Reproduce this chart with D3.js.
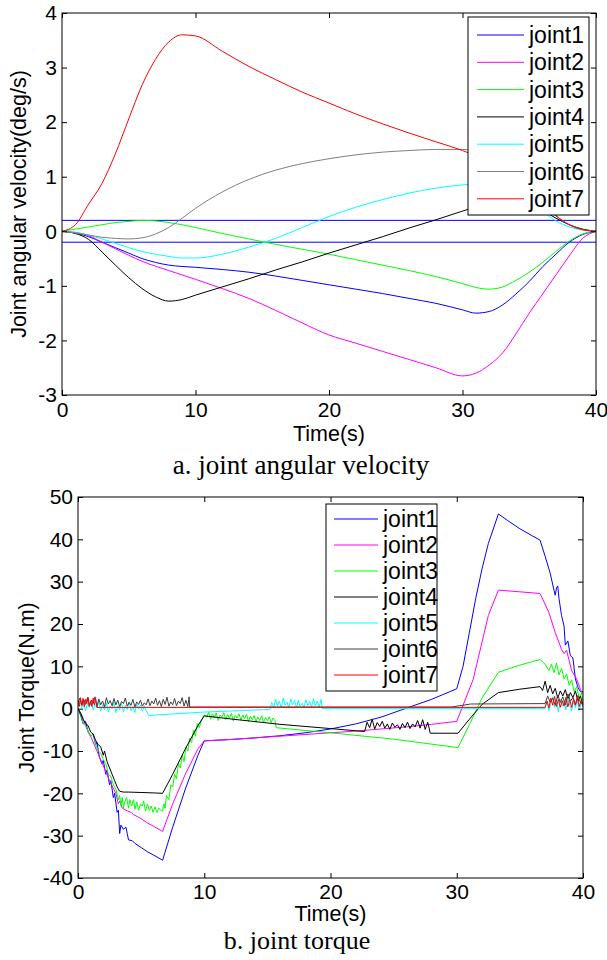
<!DOCTYPE html>
<html>
<head>
<meta charset="utf-8">
<script src="https://cdn.jsdelivr.net/npm/d3@7"></script>
<style>
  body { margin: 0; background: #fff; }
  svg { display: block; }
  text { font-family: Arial, "Liberation Sans", sans-serif; fill: #000; }
  .caption { font-family: "Times New Roman", "Liberation Serif", serif; }
</style>
</head>
<body>
<svg id="chart" width="607" height="960"></svg>
<script>
const jointNames = ['joint1', 'joint2', 'joint3', 'joint4', 'joint5', 'joint6', 'joint7'];
const timeTicks = [0, 10, 20, 30, 40];
const velTicks = [-3, -2, -1, 0, 1, 2, 3, 4];
const torTicks = [-40, -30, -20, -10, 0, 10, 20, 30, 40, 50];
const velLimits = [0.2, -0.2];

// a. joint angular velocity, sampled on a shared time grid
const velTime = [0, 1, 2, 3, 4, 5, 6, 7, 8, 9, 10, 12, 14, 16, 18, 20, 22, 24, 26, 28, 30, 31, 32, 33, 34, 35, 36, 37, 38, 39, 40];
const velJoint1 = [0, -0.03, -0.1, -0.2, -0.3, -0.4, -0.5, -0.57, -0.62, -0.645, -0.66, -0.7, -0.75, -0.82, -0.9, -0.98, -1.06, -1.14, -1.23, -1.32, -1.44, -1.5, -1.47, -1.35, -1.15, -0.92, -0.65, -0.42, -0.2, -0.06, 0];
const velJoint2 = [0, -0.02, -0.08, -0.2, -0.32, -0.44, -0.55, -0.64, -0.72, -0.8, -0.88, -1.05, -1.23, -1.45, -1.68, -1.9, -2.05, -2.2, -2.35, -2.5, -2.65, -2.6, -2.45, -2.23, -1.88, -1.5, -1.15, -0.8, -0.45, -0.13, 0];
const velJoint3 = [0, 0.04, 0.08, 0.12, 0.16, 0.18, 0.2, 0.19, 0.16, 0.12, 0.07, -0.04, -0.14, -0.24, -0.33, -0.42, -0.52, -0.62, -0.72, -0.83, -0.96, -1.03, -1.06, -1.02, -0.9, -0.75, -0.57, -0.37, -0.18, -0.05, 0];
const velJoint4 = [0, -0.04, -0.15, -0.38, -0.62, -0.85, -1.05, -1.2, -1.28, -1.25, -1.17, -1.02, -0.87, -0.71, -0.56, -0.4, -0.25, -0.1, 0.06, 0.21, 0.37, 0.45, 0.52, 0.56, 0.55, 0.48, 0.38, 0.24, 0.12, 0.04, 0];
const velJoint5 = [0, -0.02, -0.07, -0.14, -0.22, -0.3, -0.37, -0.42, -0.46, -0.49, -0.49, -0.42, -0.29, -0.13, 0.07, 0.27, 0.44, 0.58, 0.7, 0.79, 0.85, 0.86, 0.84, 0.78, 0.68, 0.53, 0.36, 0.19, 0.08, 0.02, 0];
const velJoint6 = [0, -0.03, -0.07, -0.11, -0.13, -0.14, -0.12, -0.05, 0.07, 0.24, 0.42, 0.72, 0.95, 1.12, 1.24, 1.33, 1.4, 1.45, 1.48, 1.5, 1.5, 1.48, 1.43, 1.32, 1.15, 0.92, 0.62, 0.3, 0.12, 0.03, 0];
const velJoint7 = [0, 0.12, 0.5, 0.88, 1.42, 2.06, 2.68, 3.15, 3.47, 3.6, 3.58, 3.3, 3.02, 2.78, 2.55, 2.35, 2.15, 1.97, 1.8, 1.64, 1.48, 1.38, 1.25, 1.1, 0.92, 0.72, 0.5, 0.28, 0.12, 0.03, 0];

// b. joint torque, [time, value] pairs
const torJoint1 = [[0,0],[0.2,-1.5],[0.4,-3.5],[0.6,-3],[0.8,-5.5],[1,-6.5],[1.2,-6],[1.4,-8.5],[1.5,-8],[1.7,-11.5],[1.9,-13],[2,-12.2],[2.2,-15.5],[2.3,-14.5],[2.5,-18],[2.6,-17],[2.8,-21],[2.9,-20],[3.1,-24.5],[3.2,-24],[3.3,-29.5],[3.4,-27.5],[3.6,-28.5],[3.8,-28],[3.9,-29.5],[4,-31],[4.3,-31.2],[4.5,-31.8],[5,-32.8],[5.5,-33.8],[6,-34.6],[6.7,-35.8],[7.5,-28],[8.5,-19],[9.5,-11],[10,-7.6],[12,-7.3],[14,-6.9],[16,-6.4],[18,-5.7],[20,-4.8],[22,-3.6],[24,-2],[26,0.1],[28,2.2],[30,4.7],[30.5,10],[31,18],[31.5,26],[32,33],[32.5,39],[33.3,46],[34,44.5],[35,42.5],[36,40.8],[36.6,39.8],[37,36],[37.4,32],[37.7,28],[37.8,26.8],[37.9,28.5],[38,29],[38.1,26],[38.3,22],[38.5,19.5],[38.6,15],[38.8,16],[39,12.5],[39.2,12],[39.4,7],[39.6,5],[39.8,4],[40,4]];
const torJoint2 = [[0,0],[0.3,-1.5],[0.6,-4],[1,-6.5],[1.5,-10],[2,-13.5],[2.5,-17],[3,-20],[3.2,-22.5],[3.3,-21.8],[3.5,-23.5],[3.8,-24],[4.2,-24.5],[4.4,-25],[5,-26],[5.5,-27],[6,-27.8],[6.7,-29],[7.5,-22.5],[8.5,-15.5],[9.5,-9.5],[10,-7.6],[12,-7.3],[14,-6.9],[16,-6.5],[18,-6.1],[20,-5.7],[22,-5.3],[24,-4.8],[26,-4.3],[28,-3.7],[30,-3],[31.3,6.9],[32.5,22],[33.3,28],[35,27.6],[36.6,27.2],[37.3,22.7],[37.8,18],[38.3,14],[38.5,13],[38.7,13.8],[39.1,9],[39.5,7],[39.8,4.5],[40,3.5]];
const torJoint3 = [[0,0],[0.2,-1],[0.4,-3.5],[0.6,-4],[0.8,-5.5],[1,-6.5],[1.2,-6],[1.4,-8.5],[1.6,-10],[1.8,-10.5],[2,-12],[2.2,-13],[2.4,-15.5],[2.6,-16],[2.8,-18],[3,-19],[3.2,-21.5],[3.3,-20.5],[3.4,-23],[3.5,-21],[3.6,-23.5],[3.7,-22],[3.85,-21],[4,-23.5],[4.1,-21.5],[4.25,-23],[4.4,-21.5],[4.5,-23.8],[4.65,-22],[4.8,-24],[4.95,-22.5],[5.1,-23],[5.2,-21.8],[5.35,-24.2],[5.5,-22.5],[5.65,-24],[5.8,-23],[5.95,-24.5],[6.1,-23.2],[6.25,-24.5],[6.4,-23.5],[6.55,-24],[6.7,-24.2],[6.8,-22.5],[6.9,-23.5],[7,-20.5],[7.2,-21.5],[7.35,-18],[7.5,-18.5],[7.65,-15.5],[7.8,-16.5],[7.95,-13],[8.1,-14],[8.25,-11],[8.4,-12.5],[8.55,-9],[8.7,-10],[8.85,-7],[9,-8],[9.15,-5],[9.3,-6.5],[9.45,-3.5],[9.6,-4.5],[9.8,-2.5],[10,-1.5],[10.2,-2],[10.35,-0.8],[10.5,-2.5],[10.65,-1.2],[10.8,-2.2],[10.95,-1],[11.1,-2.8],[11.25,-1.5],[11.4,-2],[11.55,-0.9],[11.7,-2.6],[11.85,-1.4],[12,-2.3],[12.15,-1.1],[12.3,-2.9],[12.45,-1.6],[12.6,-2.2],[12.75,-1.2],[12.9,-2.7],[13.05,-1.5],[13.2,-2.4],[13.35,-1.3],[13.5,-3],[13.65,-1.8],[13.8,-2.6],[13.95,-1.6],[14.1,-3.1],[14.25,-2],[14.4,-2.8],[14.55,-1.7],[14.7,-3.2],[14.85,-2.1],[15,-2.9],[15.15,-1.9],[15.3,-3.3],[15.45,-2.2],[15.6,-2.8],[15.7,-4.5],[20,-5.7],[25,-7.2],[30.1,-9.2],[31,-3.8],[32,2.5],[33.3,8.6],[35,10.3],[36.6,11.6],[37,10.5],[37.3,9],[37.5,10.5],[37.7,8.5],[37.9,10.8],[38.1,8],[38.3,9.5],[38.5,7],[38.7,8.2],[38.9,5.5],[39.1,6.8],[39.3,4],[39.5,5.2],[39.7,2.5],[39.9,3.8],[40,1]];
const torJoint4 = [[0,0],[0.2,-1],[0.4,-2.5],[0.6,-3.5],[0.8,-4],[1,-5.5],[1.2,-6],[1.4,-7.5],[1.6,-8.5],[1.8,-9],[2,-11],[2.1,-10],[2.3,-12.5],[2.5,-14],[2.7,-15.5],[2.9,-17],[3.1,-18.5],[3.3,-19.5],[3.6,-19.7],[4,-19.7],[5,-19.8],[6,-19.9],[6.7,-20],[7.5,-15.5],[8.5,-9.5],[9.5,-4],[10,-1.7],[12,-2.4],[16,-3.7],[20,-4.7],[22.7,-5.4],[22.9,-3.2],[23.1,-4.5],[23.3,-2.5],[23.5,-4.8],[23.7,-3.3],[23.9,-4.2],[24.1,-3],[24.3,-4.6],[24.5,-3.6],[24.7,-4.9],[24.9,-3.4],[25.1,-4.4],[25.3,-3.8],[25.5,-4.9],[25.7,-3.5],[25.9,-4.5],[26.1,-3.2],[26.3,-4.7],[26.5,-3.6],[26.7,-4.3],[26.9,-2.8],[27.1,-4.6],[27.3,-2.6],[27.5,-4.9],[27.7,-3.2],[27.9,-5.8],[30.1,-5.8],[31,-2.5],[32,1],[33.3,3.8],[35,4.6],[36.6,5.2],[36.8,4.3],[37,6.5],[37.2,3.8],[37.4,5.5],[37.6,3.5],[37.8,4.8],[38,2.5],[38.2,4.2],[38.4,3],[38.6,4.5],[38.8,2.2],[39,3.8],[39.2,2.6],[39.4,4.2],[39.6,1.8],[39.8,3],[40,0.5]];
const torJoint5 = [[0,0.5],[0.15,1.8],[0.3,0.2],[0.45,1.5],[0.6,-0.5],[0.75,1.2],[0.9,0.3],[1.05,1.9],[1.2,-0.3],[1.35,1],[1.5,0.2],[1.65,1.7],[1.8,-0.6],[1.95,0.9],[2.1,-0.2],[2.25,1.4],[2.4,-0.8],[2.55,0.6],[2.7,0],[2.85,1.5],[3,-0.9],[3.15,0.7],[3.3,-0.3],[3.45,1.2],[3.6,-0.7],[3.75,0.8],[3.9,-0.2],[4.05,1.6],[4.2,-0.5],[4.35,0.5],[4.5,-0.9],[4.65,1.1],[4.8,-0.1],[4.95,0.9],[5.1,-0.6],[5.25,0.7],[5.4,-0.4],[5.6,-1.6],[10,-0.8],[15.2,-0.2],[15.35,1.5],[15.5,0.3],[15.65,2.2],[15.8,0.6],[15.95,1.8],[16.1,0.2],[16.25,2.5],[16.4,0.8],[16.55,1.6],[16.7,0.1],[16.85,2.3],[17,0.9],[17.15,1.9],[17.3,0.3],[17.45,2],[17.6,0.5],[17.75,1.3],[17.9,0.2],[18.05,2.1],[18.2,0.7],[18.35,1.7],[18.5,0.4],[18.65,2.4],[18.8,0.6],[18.95,1.8],[19.1,0.3],[19.25,2.2],[19.35,0],[37,0],[37.15,1.8],[37.3,-0.5],[37.45,1.2],[37.6,2.8],[37.75,0.3],[37.9,1.6],[38.05,-0.8],[38.2,2.2],[38.35,0.5],[38.5,1.9],[38.65,-0.3],[38.8,2.5],[38.95,0.8],[39.1,-0.6],[39.25,1.7],[39.4,0.2],[39.55,2],[39.7,-0.4],[39.85,1.3],[40,0.5]];
const torJoint6 = [[0,1.5],[0.15,2.5],[0.3,0.8],[0.45,2.2],[0.6,1],[0.75,2.6],[0.9,0.6],[1.05,2],[1.2,1.2],[1.35,2.8],[1.5,0.5],[1.65,2.3],[1.8,0.9],[1.95,1.8],[2.1,0.4],[2.25,2.6],[2.4,1.1],[2.55,1.9],[2.7,0.7],[2.85,2.4],[3,0.9],[3.15,2],[3.3,0.5],[3.45,1.7],[3.6,1.2],[3.75,2.5],[3.9,0.6],[4.05,1.5],[4.2,0.8],[4.35,2.2],[4.5,0.4],[4.65,1.6],[4.8,1],[4.95,2],[5.1,0.6],[5.25,1.4],[5.4,0.9],[5.55,2.3],[5.7,0.7],[5.85,1.8],[6,1.1],[6.15,2.5],[6.3,0.8],[6.45,1.9],[6.6,0.5],[6.75,2.2],[6.9,1],[7.05,2.7],[7.2,0.6],[7.35,1.6],[7.5,0.9],[7.65,2.4],[7.8,0.7],[7.95,1.8],[8.1,1.2],[8.25,2.6],[8.4,0.6],[8.55,2],[8.7,0.5],[8.8,2.8],[8.85,0.4],[29.6,0.4],[31.1,1.1],[37,1.2],[37.2,3],[37.4,1.5],[37.6,2.5],[37.8,0.8],[38,3.2],[38.2,1.5],[38.4,2.8],[38.6,0.9],[38.8,3.5],[39,1.8],[39.2,2.6],[39.4,1],[39.6,3.1],[39.8,1.4],[40,1]];
const torJoint7 = [[0,2],[0.1,0.5],[0.2,2.6],[0.3,0.8],[0.4,2.4],[0.5,0.4],[0.6,2.2],[0.7,1.2],[0.8,2.7],[0.9,0.6],[1,1.8],[1.1,0.5],[1.2,2.5],[1.3,0.9],[1.4,2.3],[1.5,0.3],[37,0.3],[37.15,1.8],[37.3,0.2],[37.45,2.5],[37.6,0.8],[37.75,2.9],[37.9,0.5],[38.05,2.2],[38.2,0.3],[38.35,1.9],[38.5,0.6],[38.65,2.7],[38.8,0.4],[38.95,2.1],[39.1,0.3],[39.25,2.4],[39.4,0.8],[39.55,2.8],[39.7,0.5],[39.85,1.9],[40,0.6]];

const velColors = ['#0000ff', '#ff00ff', '#00ff00', '#000000', '#00ffff', '#808080', '#ff0000'];
const torColors = ['#0000ff', '#ff00ff', '#00ff00', '#000000', '#00ffff', '#404040', '#ff0000'];

const svg = d3.select('#chart');

function drawPanel(p) {
  const x = d3.scaleLinear().domain([0, 40]).range([p.left, p.right]);
  const y = d3.scaleLinear().domain(p.yDomain).range([p.bottom, p.top]);
  const g = svg.append('g');

  g.append('clipPath').attr('id', p.id + '-clip')
    .append('rect')
    .attr('x', p.left).attr('y', p.top)
    .attr('width', p.right - p.left).attr('height', p.bottom - p.top);

  const plot = g.append('g').attr('clip-path', `url(#${p.id}-clip)`);

  if (p.limits) {
    plot.selectAll('line.limit')
      .data(p.limits)
      .join('line')
      .attr('x1', p.left).attr('x2', p.right)
      .attr('y1', d => y(d)).attr('y2', d => y(d))
      .attr('stroke', '#0000ff').attr('stroke-width', 1);
  }

  const line = d3.line()
    .x(d => x(d[0]))
    .y(d => y(d[1]))
    .curve(p.curve);

  plot.selectAll('path.series')
    .data(p.series)
    .join('path')
    .attr('fill', 'none')
    .attr('stroke', (d, i) => p.colors[i])
    .attr('stroke-width', 1)
    .attr('d', d => line(d));

  // axes, MATLAB style: ticks inside, box all round, plain hyphen minus
  const fmt = d => String(d);
  g.append('g')
    .attr('transform', `translate(0,${p.bottom})`)
    .call(d3.axisBottom(x).tickValues(timeTicks).tickFormat(fmt).tickSizeInner(-5).tickSizeOuter(0).tickPadding(p.xPad));
  g.append('g')
    .attr('transform', `translate(0,${p.top})`)
    .call(d3.axisTop(x).tickValues(timeTicks).tickFormat('').tickSizeInner(-5).tickSizeOuter(0));
  g.append('g')
    .attr('transform', `translate(${p.left},0)`)
    .call(d3.axisLeft(y).tickValues(p.yTicks).tickFormat(fmt).tickSizeInner(-5).tickSizeOuter(0).tickPadding(p.yPad));
  g.append('g')
    .attr('transform', `translate(${p.right},0)`)
    .call(d3.axisRight(y).tickValues(p.yTicks).tickFormat('').tickSizeInner(-5).tickSizeOuter(0));

  g.selectAll('.domain').remove();
  g.selectAll('.tick line').attr('stroke', '#000');
  g.selectAll('.tick text')
    .attr('font-family', 'Arial, "Liberation Sans", sans-serif')
    .attr('font-size', p.tickSize)
    .attr('fill', '#000');

  g.append('rect')
    .attr('x', p.left).attr('y', p.top)
    .attr('width', p.right - p.left).attr('height', p.bottom - p.top)
    .attr('fill', 'none').attr('stroke', '#000').attr('stroke-width', 1);

  // labels
  g.append('text')
    .attr('x', (p.left + p.right) / 2).attr('y', p.xLabelY)
    .attr('text-anchor', 'middle').attr('dominant-baseline', 'central')
    .attr('font-size', p.labelSize)
    .text('Time(s)');
  g.append('text')
    .attr('transform', `translate(${p.yLabelX},${(p.top + p.bottom) / 2}) rotate(-90)`)
    .attr('text-anchor', 'middle').attr('dominant-baseline', 'central')
    .attr('font-size', p.labelSize)
    .text(p.yLabel);
  g.append('text')
    .attr('class', 'caption')
    .attr('x', p.captionX).attr('y', p.captionY)
    .attr('text-anchor', 'middle').attr('dominant-baseline', 'central')
    .attr('font-size', p.captionSize)
    .text(p.caption);

  // legend
  const lg = p.legend;
  g.append('rect')
    .attr('x', lg.x).attr('y', lg.y).attr('width', lg.w).attr('height', lg.h)
    .attr('fill', '#fff').attr('stroke', '#000').attr('stroke-width', 1);
  const item = g.selectAll('g.item')
    .data(jointNames)
    .join('g')
    .attr('transform', (d, i) => `translate(0,${lg.y0 + i * lg.step})`);
  item.append('line')
    .attr('x1', lg.lineX0).attr('x2', lg.lineX1)
    .attr('stroke', (d, i) => p.colors[i]).attr('stroke-width', 1);
  item.append('text')
    .attr('x', lg.textX)
    .attr('dominant-baseline', 'central')
    .attr('font-size', lg.fontSize)
    .text(d => d);
}

const velSeries = [velJoint1, velJoint2, velJoint3, velJoint4, velJoint5, velJoint6, velJoint7]
  .map(vals => vals.map((v, i) => [velTime[i], v]));

drawPanel({
  id: 'vel', left: 62, right: 596, top: 13, bottom: 395,
  yDomain: [-3, 4], yTicks: velTicks, limits: velLimits,
  series: velSeries, colors: velColors, curve: d3.curveMonotoneX,
  xPad: 7, yPad: 5, tickSize: 21, labelSize: 21.5, captionSize: 27,
  xLabelY: 434, yLabelX: 19, yLabel: 'Joint angular velocity(deg/s)',
  captionX: 301, captionY: 465, caption: 'a. joint angular velocity',
  legend: { x: 468, y: 17, w: 121, h: 198, y0: 35, step: 27.3, lineX0: 477, lineX1: 524, textX: 529, fontSize: 23 }
});

drawPanel({
  id: 'tor', left: 78, right: 583, top: 497, bottom: 878,
  yDomain: [-40, 50], yTicks: torTicks,
  series: [torJoint1, torJoint2, torJoint3, torJoint4, torJoint5, torJoint6, torJoint7],
  colors: torColors, curve: d3.curveLinear,
  xPad: 6, yPad: 5, tickSize: 21, labelSize: 21.5, captionSize: 26,
  xLabelY: 914, yLabelX: 27, yLabel: 'Joint Torque(N.m)',
  captionX: 297, captionY: 940, caption: 'b. joint torque',
  legend: { x: 326, y: 504, w: 111, h: 187, y0: 519, step: 26, lineX0: 334, lineX1: 378, textX: 383, fontSize: 23 }
});
</script>
</body>
</html>
